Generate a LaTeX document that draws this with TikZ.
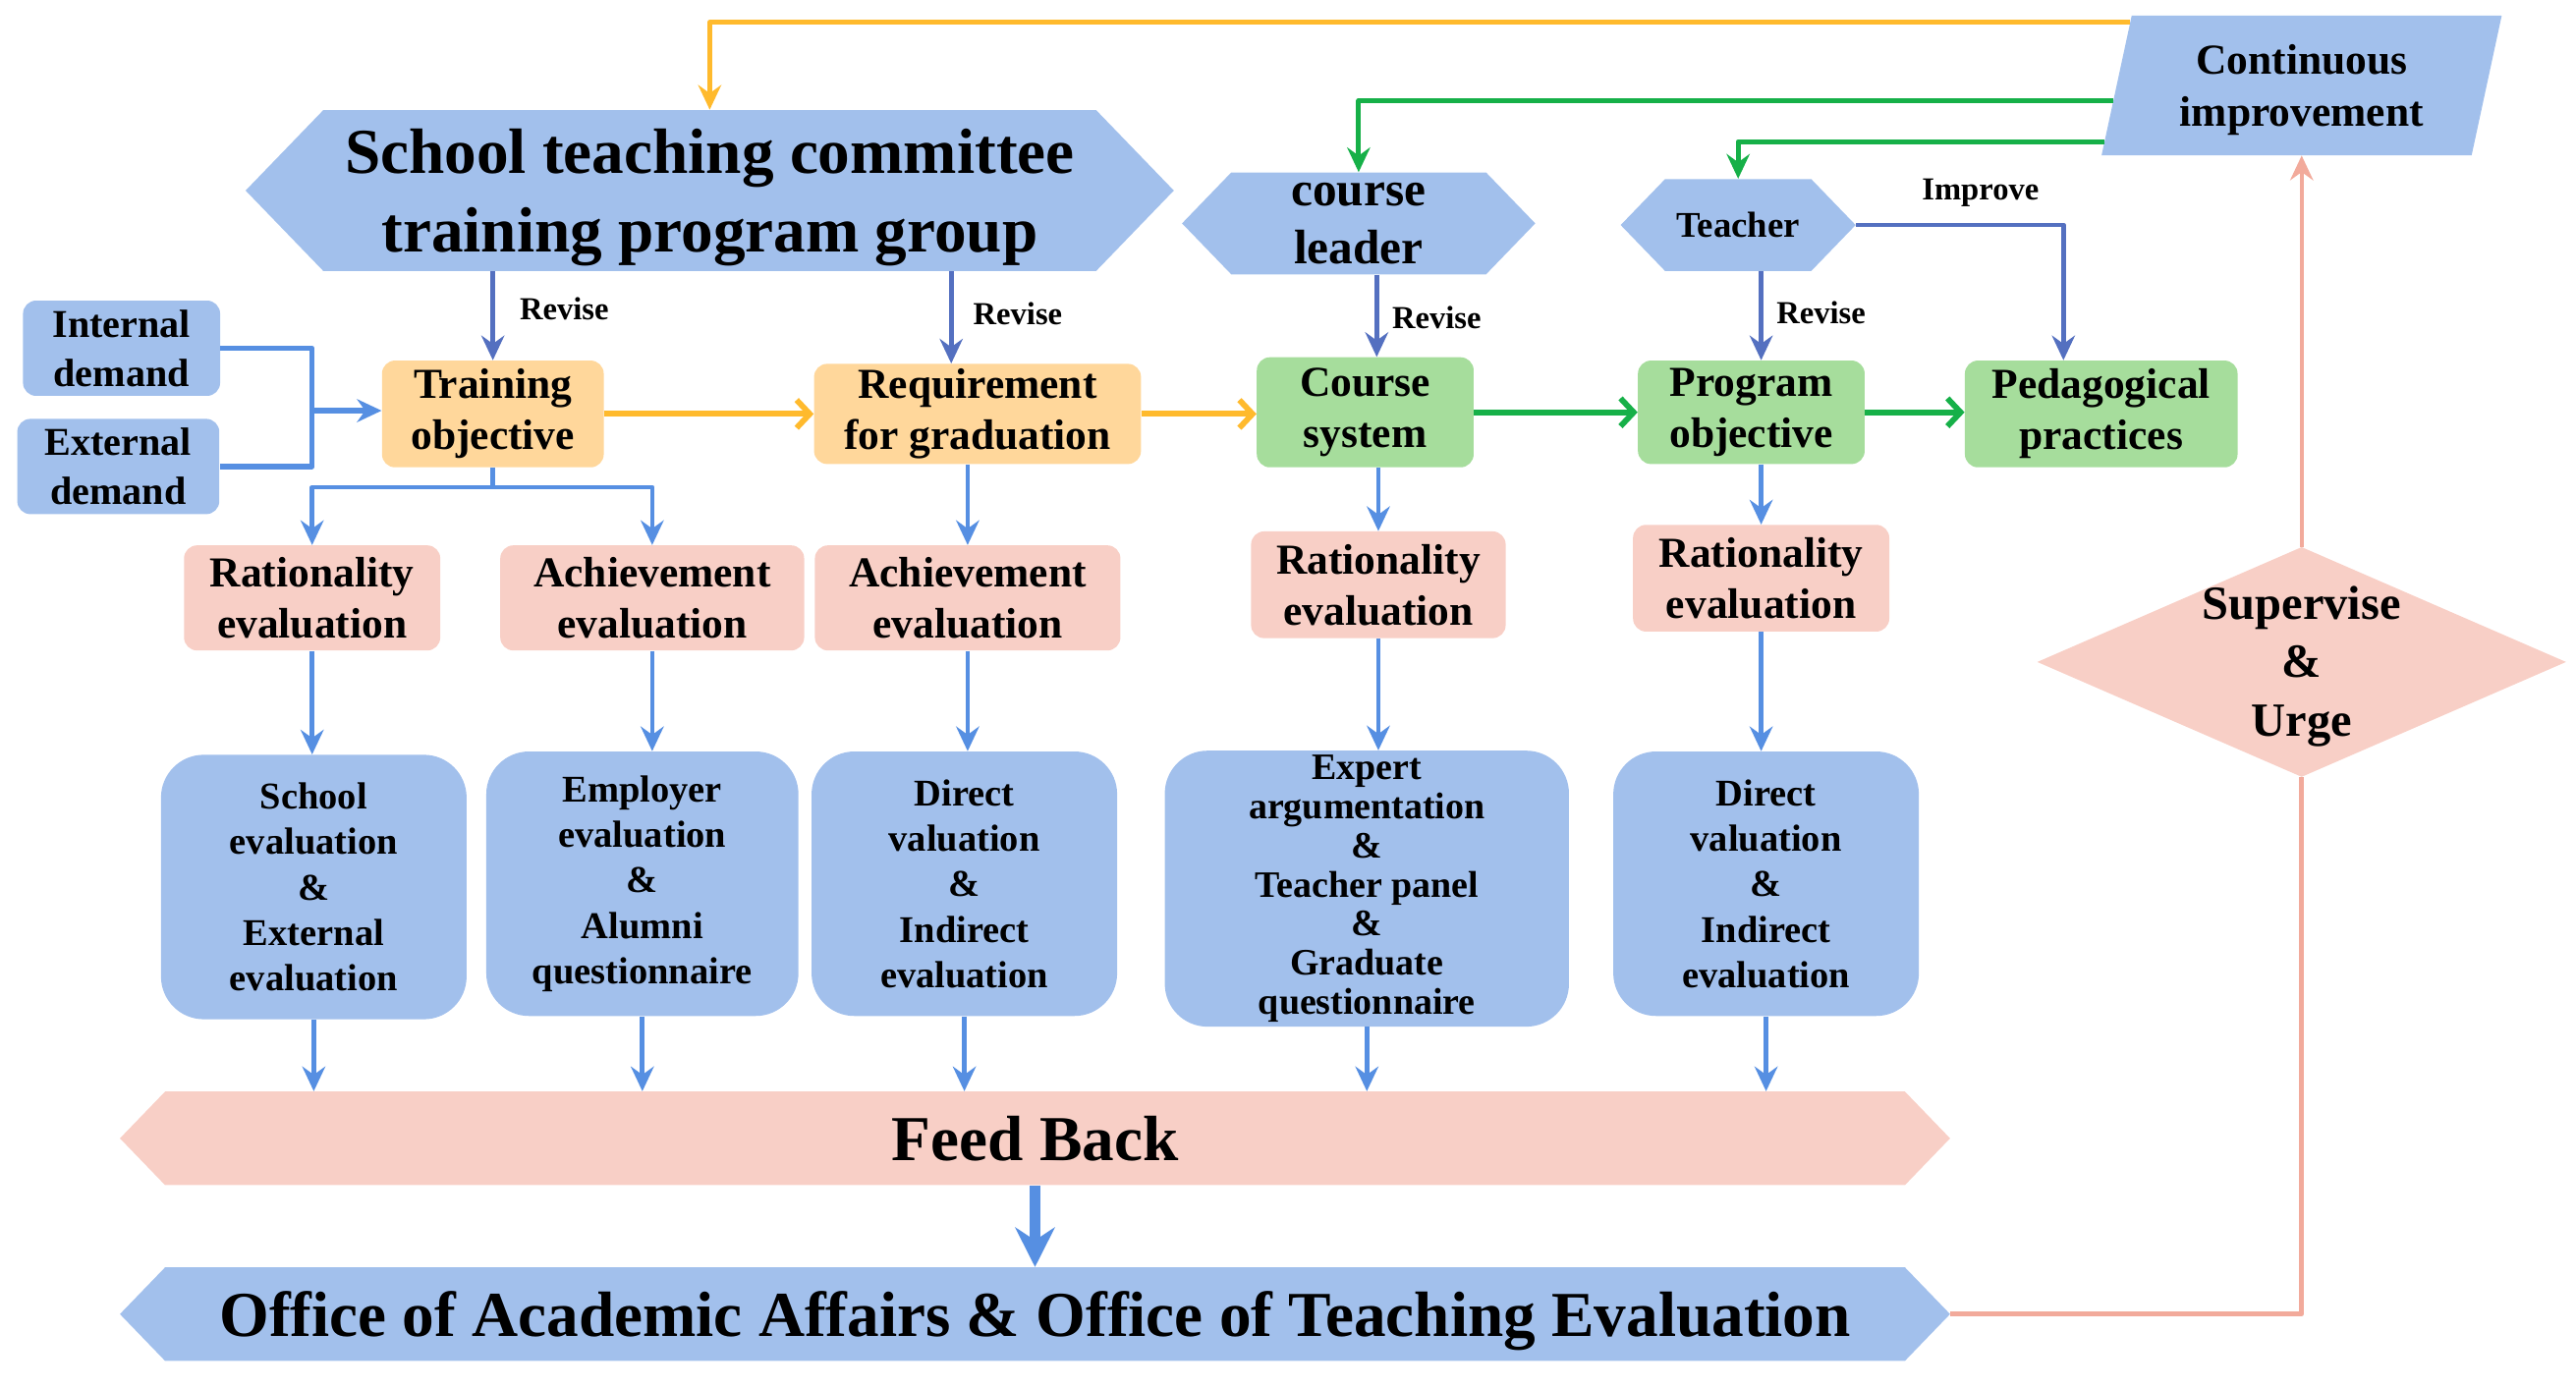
\documentclass[tikz,border=0pt]{standalone}
\usepackage{fontspec}
\setmainfont{Liberation Serif}
\usetikzlibrary{arrows.meta,positioning,calc,shapes.geometric,shapes.symbols}
\definecolor{boxblue}{RGB}{162,192,236}
\definecolor{boxpink}{RGB}{248,207,198}
\definecolor{boxorange}{RGB}{255,215,155}
\definecolor{boxgreen}{RGB}{166,221,156}
\definecolor{lineblue}{RGB}{86,143,226}
\definecolor{lineslate}{RGB}{84,112,192}
\definecolor{lineorange}{RGB}{255,186,45}
\definecolor{linegreen}{RGB}{22,176,72}
\definecolor{linepink}{RGB}{242,170,155}
\newcommand{\flattext}[1]{\makebox[0pt]{\smash{\raisebox{-0.3em}{\begin{tabular}{@{}c@{}}#1\end{tabular}}}}}
\begin{document}
\begin{tikzpicture}[x=1pt,y=-1pt,>={Stealth[length=15pt,width=14pt,inset=5pt]},
		line join=round,
		every node/.style={font=\bfseries,align=center,inner sep=2pt},
		hexbox/.style={signal,signal to=west and east,signal pointer angle=92,fill=#1,inner sep=0pt},
		card/.style={rectangle,rounded corners=8pt,fill=#1},
		resbox/.style={rectangle,rounded corners=26pt,fill=boxblue,inner sep=0pt,minimum width=186pt,minimum height=161pt,font=\bfseries\fontsize{23}{27.7}\selectfont},
		bigtext/.style={font=\bfseries\fontsize{39}{48}\selectfont},
		medtext/.style={font=\bfseries\fontsize{26}{31}\selectfont},
		smalltext/.style={text=black,font=\bfseries\fontsize{19.5}{24}\selectfont},
		bl/.style={lineblue,line width=2.8pt},
		revise/.style={lineslate,line width=2.8pt,->},
		flow/.style={line width=3.5pt,-{Straight Barb[length=8pt,width=17pt]}}]
	%\draw[gray!40] (0,0) grid[step=50] (1568,845);
	\useasboundingbox (0,0) rectangle (1568,845);
	% committees
	\node[hexbox=boxblue,bigtext,text depth=0pt,minimum width=565pt,minimum height=98pt] (school) at (432,116) {School teaching committee\\training program group};
	\node[hexbox=boxblue,font=\bfseries\fontsize{29.5}{35}\selectfont,minimum width=215pt,minimum height=62pt] (leader) at (827,136) {course\\leader};
	\node[hexbox=boxblue,font=\bfseries\fontsize{22}{26}\selectfont,minimum width=143pt,minimum height=56pt] (teacher) at (1058,137) {Teacher};
	\node[trapezium,trapezium left angle=76,trapezium right angle=104,trapezium stretches=true,fill=boxblue,font=\bfseries\fontsize{26}{32}\selectfont,text depth=0pt,minimum width=244pt,minimum height=85pt] (ci) at (1401,52) {Continuous\\improvement};
	% demands and objectives
	\node[card=boxblue,font=\bfseries\fontsize{24}{30}\selectfont,minimum width=120pt,minimum height=58pt] (intd) at (74,212) {Internal\\demand};
	\node[card=boxblue,font=\bfseries\fontsize{24}{30}\selectfont,minimum width=123pt,minimum height=58pt] (extd) at (72,284) {External\\demand};
	\node[card=boxorange,medtext,minimum width=135pt,minimum height=65pt] (train) at (300,252) {Training\\objective};
	\node[card=boxorange,medtext,minimum width=199pt,minimum height=61pt] (req) at (595,252) {Requirement\\for graduation};
	\node[card=boxgreen,medtext,minimum width=132pt,minimum height=67pt] (cs) at (831,251) {Course\\system};
	\node[card=boxgreen,medtext,minimum width=138pt,minimum height=63pt] (po) at (1066,251) {Program\\objective};
	\node[card=boxgreen,medtext,minimum width=166pt,minimum height=65pt] (pp) at (1279,252) {Pedagogical\\practices};
	% evaluations
	\node[card=boxpink,medtext,minimum width=156pt,minimum height=64pt] (ev1) at (190,364) {Rationality\\evaluation};
	\node[card=boxpink,medtext,minimum width=185pt,minimum height=64pt] (ev2) at (397,364) {Achievement\\evaluation};
	\node[card=boxpink,medtext,minimum width=186pt,minimum height=64pt] (ev3) at (589,364) {Achievement\\evaluation};
	\node[card=boxpink,medtext,minimum width=155pt,minimum height=65pt] (ev4) at (839,356) {Rationality\\evaluation};
	\node[card=boxpink,medtext,minimum width=156pt,minimum height=65pt] (ev5) at (1072,352) {Rationality\\evaluation};
	\node[resbox] (res1) at (191,540) {School\\evaluation\\\&\\External\\evaluation};
	\node[resbox,minimum width=190pt] (res2) at (391,538) {Employer\\evaluation\\\&\\Alumni\\questionnaire};
	\node[resbox] (res3) at (587,538) {Direct\\valuation\\\&\\Indirect\\evaluation};
	\node[resbox,minimum width=246pt,minimum height=168pt,font=\bfseries\fontsize{22.7}{23.8}\selectfont] (res4) at (832,541) {Expert\\argumentation\\\&\\Teacher panel\\\&\\Graduate\\questionnaire};
	\node[resbox] (res5) at (1075,538) {Direct\\valuation\\\&\\Indirect\\evaluation};
	% feedback and office
	\node[hexbox=boxpink,bigtext,minimum width=1114pt,minimum height=57pt] (fb) at (630,693) {Feed Back};
	\node[hexbox=boxblue,bigtext,text depth=0pt,minimum width=1114pt,minimum height=57pt] (office) at (630,800) {Office of Academic Affairs \& Office of Teaching Evaluation};
	\node[diamond,aspect=2.3,fill=boxpink,inner sep=0pt,minimum width=322pt,minimum height=140pt,font=\bfseries\fontsize{29}{35.5}\selectfont] (su) at (1401,403) {\flattext{Supervise\\\&\\Urge}};
	% connectors
	\draw[lineorange,line width=3pt,->] ($(ci.top left corner)!0.05!(ci.bottom left corner)$) -| (school.north);
	\draw[linegreen,line width=3pt,->] ($(ci.top left corner)!0.61!(ci.bottom left corner)$) -| (leader.north);
	\draw[linegreen,line width=3pt,->] ($(ci.top left corner)!0.9!(ci.bottom left corner)$) -| (teacher.north);
	\draw[revise] (teacher.east) -| ([xshift=-23pt]pp.north) node[pos=0.3,above=8pt,smalltext] (imp) {Improve};
	\draw[revise] (train.north |- school.south) -- (train.north) node[pos=0.42,right=13pt,smalltext] (rv1) {Revise};
	\draw[revise] ([xshift=-16pt]req.north |- school.south) -- ([xshift=-16pt]req.north) node[pos=0.46,right=10pt,smalltext] (rv2) {Revise};
	\draw[revise] ([xshift=7pt]cs.north |- leader.south) -- ([xshift=7pt]cs.north) node[pos=0.52,right=6pt,smalltext] (rv3) {Revise};
	\draw[revise] ([xshift=6pt]po.north |- teacher.south) -- ([xshift=6pt]po.north) node[pos=0.47,right=6pt,smalltext] (rv4) {Revise};
	\coordinate (join) at (190,250);
	\draw[bl,line width=3.2pt] (intd.east) -| (join) |- (extd.east);
	\draw[bl,line width=3.5pt,->] (join) -- (train.west |- join);
	\draw[flow,lineorange] (train.east) -- (train.east -| req.west);
	\draw[flow,lineorange] (req.east) -- (req.east -| cs.west);
	\draw[flow,linegreen] (cs.east) -- (cs.east -| po.west);
	\draw[flow,linegreen] (po.east) -- (po.east -| pp.west);
	\draw[bl,->] (train.south) -- ++(0,12) -| (ev1.north);
	\draw[bl,->] (train.south) -- ++(0,12) -| (ev2.north);
	\draw[bl,->] (ev3.north |- req.south) -- (ev3.north);
	\draw[bl,->] (ev4.north |- cs.south) -- (ev4.north);
	\draw[bl,->] (ev5.north |- po.south) -- (ev5.north);
	\foreach \i in {1,...,5}{
		\draw[bl,->] (ev\i.south) -- (ev\i.south |- res\i.north);
		\draw[bl,->] (res\i.south) -- (res\i.south |- fb.north);
	}
	\draw[lineblue,line width=7pt,-{Stealth[length=24pt,width=24pt]}] (fb.south) -- (office.north);
	\draw[linepink,line width=3pt] (office.east) -| (su.south);
	\draw[linepink,line width=2.5pt,->] (su.north) -- (su.north |- ci.south);
\end{tikzpicture}
\end{document}
